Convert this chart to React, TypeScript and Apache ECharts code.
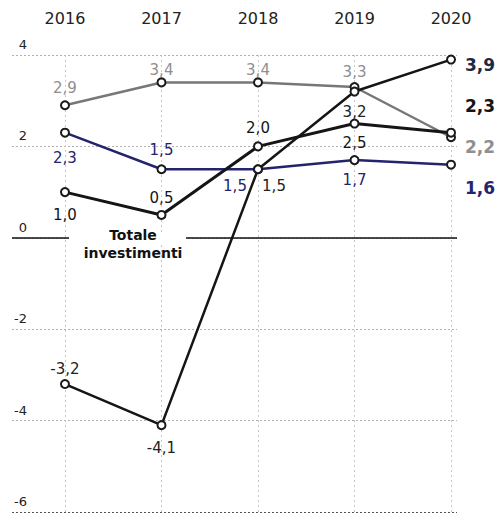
import React, { useEffect, useRef } from "react";
import * as echarts from "echarts";

const years = [2016, 2017, 2018, 2019, 2020];
const grayValues = [2.9, 3.4, 3.4, 3.3, 2.2];
const navyValues = [2.3, 1.5, 1.5, 1.7, 1.6];
const blackValues = [1.0, 0.5, 2.0, 2.5, 2.3];
const totalValues = [-3.2, -4.1, 1.5, 3.2, 3.9];
const yTicks = [-6, -4, -2, 0, 2, 4];
const annotation = "Totale\ninvestimenti";

const FONT = "DejaVu Sans";

const fmt = (v: number) => v.toFixed(1).replace(".", ",");

type Off = [number, number];

function buildData(values: number[], offsets: Off[], color: string, lastColor: string) {
  return values.map((v, i) => {
    const last = i === values.length - 1;
    return {
      value: [years[i], v],
      label: {
        show: true,
        position: "inside",
        offset: offsets[i],
        formatter: () => fmt(v),
        color: last ? lastColor : color,
        fontFamily: FONT,
        fontSize: last ? 17 : 15,
        fontWeight: last ? "bold" : "normal",
      },
    };
  });
}

export default function App() {
  const ref = useRef<HTMLDivElement>(null);
  useEffect(() => {
    if (!ref.current) return;
    const chart = echarts.init(ref.current, null, { renderer: "svg" });
    const xMin = 2015.451;
    const xMax = 2020.062;
    const gray = "#777777";
    const grayLabel = "#8f8f8f";
    const navy = "#24246e";
    const black = "#151515";
    const symbolBorder = "#1a1a1a";

    const lineSeries = (
      name: string,
      values: number[],
      offsets: Off[],
      lineColor: string,
      labelColor: string,
      lastColor: string,
      width: number,
      z: number
    ) => ({
      name,
      type: "line",
      data: buildData(values, offsets, labelColor, lastColor),
      symbol: "emptyCircle",
      symbolSize: 8,
      showAllSymbol: true,
      z,
      lineStyle: { color: lineColor, width },
      itemStyle: { color: symbolBorder, borderWidth: 1.5 },
      emphasis: { disabled: true },
    });

    chart.setOption({
      animation: false,
      grid: { left: 12, right: 42, top: 55, bottom: 2, containLabel: false },
      xAxis: {
        type: "value",
        position: "top",
        min: xMin,
        max: xMax,
        axisLine: { show: false },
        axisTick: { show: false },
        splitLine: { show: false },
        axisLabel: {
          customValues: years,
          formatter: (v: number) => String(Math.round(v)),
          margin: 29,
          fontFamily: FONT,
          fontSize: 16,
          color: "#222",
        },
      },
      yAxis: {
        type: "value",
        min: -6,
        max: 4,
        interval: 2,
        axisLine: { show: false },
        axisTick: { show: false },
        axisLabel: {
          inside: true,
          align: "right",
          verticalAlign: "bottom",
          margin: 15,
          padding: [0, 0, 4, 0],
          fontFamily: FONT,
          fontSize: 13,
          color: "#222",
          formatter: (v: number) => (yTicks.includes(v) ? String(v) : ""),
        },
        splitLine: {
          show: true,
          lineStyle: {
            type: [2, 2],
            color: ["#555", "#b0b0b0", "#b0b0b0", "#b0b0b0", "#b0b0b0", "#b0b0b0"],
            width: 1,
          },
        },
      },
      series: [
        {
          ...lineSeries(
            "gray",
            grayValues,
            [[0, -17], [0, -12], [0, -12], [0, -15], [29, 10]],
            gray,
            grayLabel,
            grayLabel,
            2.5,
            3
          ),
          markLine: {
            silent: true,
            symbol: "none",
            label: { show: false },
            z: 1,
            data: [
              ...years.map((y) => ({
                xAxis: y,
                lineStyle: { color: "#c8c8c8", type: [2, 3], width: 1 },
              })),
              { yAxis: 0, lineStyle: { color: "#111", type: "solid", width: 1.5 } },
            ],
          },
        },
        lineSeries(
          "navy",
          navyValues,
          [[0, 25], [0, -19], [-23, 17], [0, 20], [29, 23]],
          navy,
          navy,
          navy,
          2.5,
          4
        ),
        lineSeries(
          "black",
          blackValues,
          [[0, 23], [0, -17], [0, -18], [0, 19], [29, -27]],
          black,
          black,
          black,
          3,
          5
        ),
        lineSeries(
          "total",
          totalValues,
          [[0, -15], [0, 23], [16, 17], [0, 20], [29, 5]],
          black,
          "#222",
          "#1d2a44",
          2.5,
          6
        ),
      ],
      graphic: [
        {
          type: "rect",
          z: 50,
          shape: { x: 69, y: 233, width: 117, height: 9 },
          style: { fill: "#fff" },
        },
        {
          type: "text",
          z: 51,
          x: 133,
          y: 226,
          style: {
            text: annotation,
            fontFamily: FONT,
            fontSize: 14,
            fontWeight: "bold",
            fill: "#111",
            align: "center",
            lineHeight: 18,
          },
        },
      ],
    });
    return () => chart.dispose();
  }, []);
  return (
    <div
      ref={ref}
      style={{ position: "absolute", left: 0, top: 0, width: 499, height: 514, background: "#fff" }}
    />
  );
}
